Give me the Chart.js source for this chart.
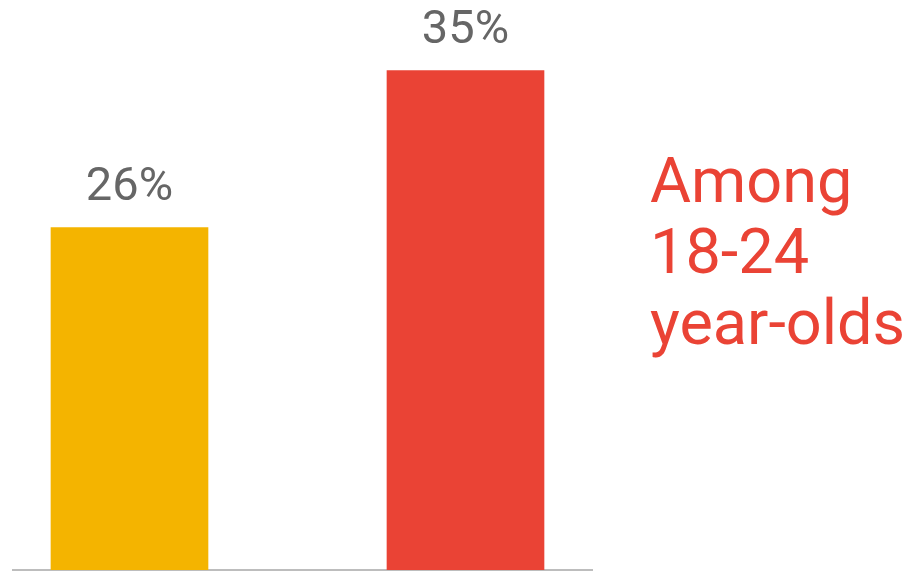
<!DOCTYPE html>
<html>
<head>
<meta charset="utf-8">
<script src="https://cdn.jsdelivr.net/npm/chart.js@4"></script>
<style>
  html, body { margin: 0; padding: 0; background: #fff; }
  #wrap { position: relative; width: 915px; height: 571px; }
  #note {
    position: absolute; left: 650px; top: 145px;
    font-family: Roboto, sans-serif; font-size: 63px; line-height: 71px;
    color: #EA4335;
  }
</style>
</head>
<body>
<div id="wrap">
  <canvas id="bar-chart" width="915" height="571"></canvas>
  <div id="note">Among<br>18-24<br>year-olds</div>
</div>
<script>
const categories = ['Group A', 'Group B'];
const values = [26, 35];
const valueLabels = ['26%', '35%'];
const barColors = ['#F4B400', '#EA4335'];

// value labels above the bars
const barLabels = {
    id: 'barLabels',
    afterDatasetsDraw(chart) {
        const ctx = chart.ctx;
        const meta = chart.getDatasetMeta(0);
        ctx.save();
        ctx.font = '47px Roboto, sans-serif';
        ctx.fillStyle = '#666666';
        ctx.textAlign = 'center';
        ctx.textBaseline = 'alphabetic';
        meta.data.forEach((bar, i) => {
            ctx.fillText(valueLabels[i], bar.x, bar.y - 28);
        });
        ctx.restore();
    }
};

const ctx = document.getElementById('bar-chart').getContext('2d');
new Chart(ctx, {
    type: 'bar',
    data: {
        datasets: [{
            label: 'Share',
            data: values.map((v, i) => ({ x: i, y: v, name: categories[i] })),
            backgroundColor: barColors,
            barThickness: 157,
        }]
    },
    options: {
        responsive: false,
        animation: false,
        layout: { padding: { left: 13, right: 323, top: 0, bottom: 1 } },
        plugins: { legend: { display: false }, tooltip: { enabled: false } },
        scales: {
            x: {
                type: 'linear',
                offset: false,
                min: -0.3467,
                max: 1.3765,
                grid: { display: false, drawTicks: false, tickLength: 0 },
                ticks: { display: false, padding: 0 },
                border: { display: true, color: '#bdbdbd', width: 2 },
            },
            y: { display: false, min: 6.37, max: 39.05 },
        },
    },
    plugins: [barLabels],
});
</script>
</body>
</html>
